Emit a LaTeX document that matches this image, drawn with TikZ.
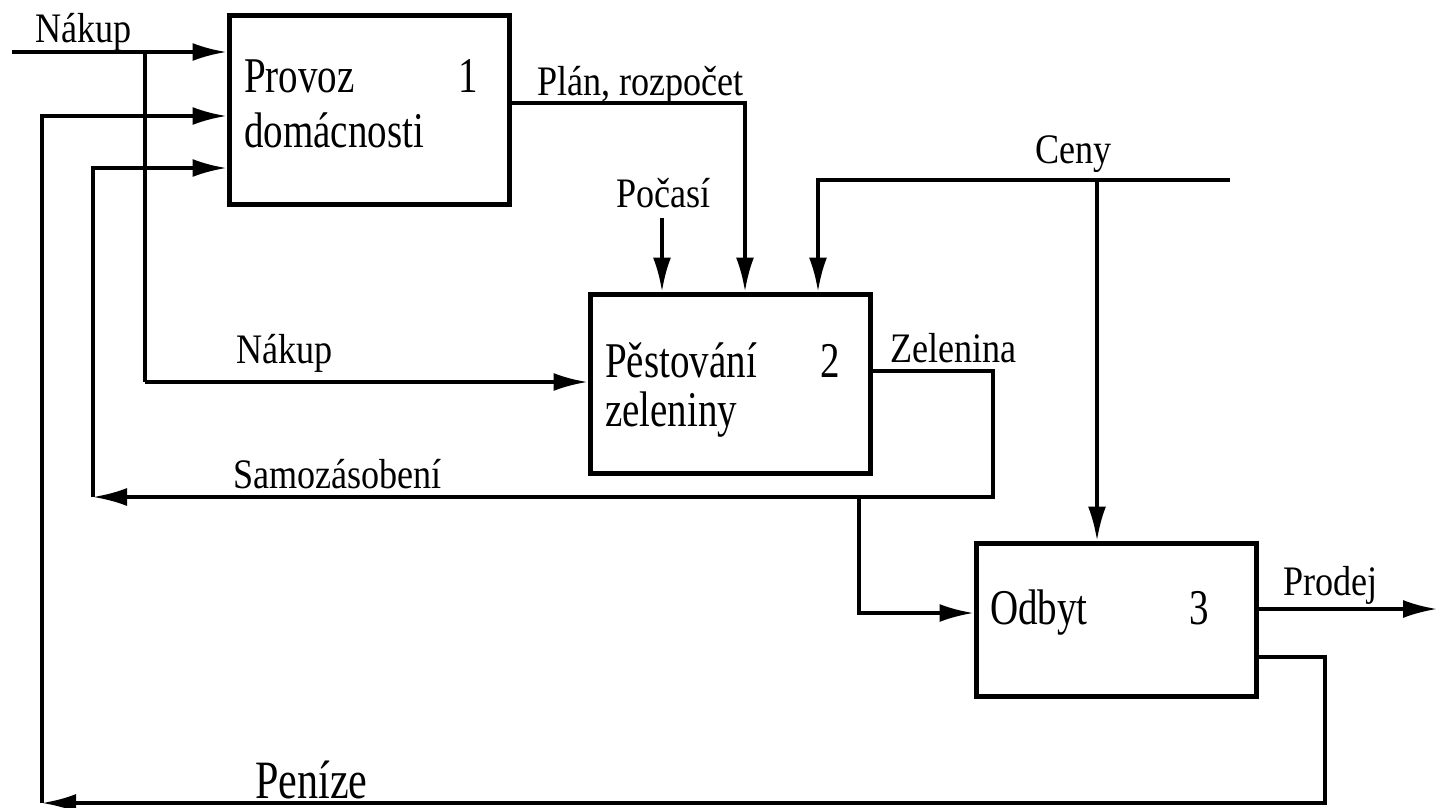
\documentclass[tikz,border=0pt]{standalone}
\usepackage{fontspec}
\setmainfont{Liberation Serif}
\newfontfamily\lblfont{Liberation Serif}[FakeStretch=0.86]
\newfontfamily\bxfont{Liberation Serif}[FakeStretch=0.78]
\usetikzlibrary{arrows.meta}
\begin{document}
\begin{tikzpicture}[x=1pt,y=-1pt,
 proc/.style={draw,line width=5pt,inner sep=0pt,minimum width=280pt},
 conn/.style={line width=3.4pt},
 arr/.style={conn,-{Latex[length=34pt,width=18pt]}},
 lbl/.style={anchor=base west,inner sep=0pt,font=\lblfont\fontsize{42}{50}\selectfont},
 btxt/.style={anchor=base west,inner sep=0pt,font=\bxfont\fontsize{50}{60}\selectfont},
 big/.style={anchor=base west,inner sep=0pt,font=\bxfont\fontsize{54}{64}\selectfont},
]
\useasboundingbox (0,0) rectangle (1437,807);

% boxes
\node[proc,minimum height=189pt] (b1) at (369,109.5) {};
\node[proc,minimum height=179pt] (b2) at (730,383.5) {};
\node[proc,minimum height=153pt] (b3) at (1116,619.5) {};

% box texts
\node[btxt] (t1a) at (244,92) {Provoz};
\node[btxt] (t1n) at (458,92) {1};
\node[btxt] (t1b) at (244,147) {domácnosti};
\node[btxt] (t2a) at (605,377) {Pěstování};
\node[btxt] (t2n) at (820,377) {2};
\node[btxt] (t2b) at (605,426) {zeleniny};
\node[btxt] (t3a) at (990,624) {Odbyt};
\node[btxt] (t3n) at (1189,624) {3};

% labels
\node[lbl] (lnak1) at (35,42) {Nákup};
\node[lbl] (lplan) at (537,95) {Plán, rozpočet};
\node[lbl] (lpoc) at (616,207) {Počasí};
\node[lbl] (lceny) at (1035,163) {Ceny};
\node[lbl] (lnak2) at (236,363) {Nákup};
\node[lbl] (lzel) at (890,362) {Zelenina};
\node[lbl] (lsam) at (233,488) {Samozásobení};
\node[lbl] (lprod) at (1283,595) {Prodej};
\node[big] (lpen) at (255,798) {Peníze};

% coordinates
\coordinate (n0) at (12,52);
\coordinate (j1) at (145,52);
\coordinate (n2) at (145,382);
\coordinate (p1) at (745,103);
\coordinate (w0) at (662,218);
\coordinate (c0) at (818,180);
\coordinate (c1) at (1230,180);
\coordinate (cj) at (1097,180);
\coordinate (z1) at (993,371);
\coordinate (z2) at (993,497);
\coordinate (s0) at (93,497);
\coordinate (s1) at (93,168);
\coordinate (o0) at (859,497);
\coordinate (o1) at (859,613);
\coordinate (pr) at (1437,609);
\coordinate (m0) at (1325,657);
\coordinate (m1) at (1325,803);
\coordinate (m2) at (42,803);
\coordinate (m3) at (42,116);

% connectors
\draw[arr] (n0) -- (n0 -| b1.west);
\draw[conn] (j1) -- (n2);
\draw[arr] (n2) -- (n2 -| b2.west);
\draw[arr] (p1 -| b1.east) -- (p1) -- (p1 |- b2.north);
\draw[arr] (w0) -- (w0 |- b2.north);
\draw[arr] (c1) -- (c0) -- (c0 |- b2.north);
\draw[arr] (cj) -- (cj |- b3.north);
\draw[arr] (z1 -| b2.east) -- (z1) -- (z2) -- (s0);
\draw[arr] (s0) -- (s1) -- (s1 -| b1.west);
\draw[arr] (o0) -- (o1) -- (o1 -| b3.west);
\draw[arr] (pr -| b3.east) -- (pr);
\draw[arr] (m0 -| b3.east) -- (m0) -- (m1) -- (m2);
\draw[arr] (m2) -- (m3) -- (m3 -| b1.west);
\end{tikzpicture}
\end{document}
